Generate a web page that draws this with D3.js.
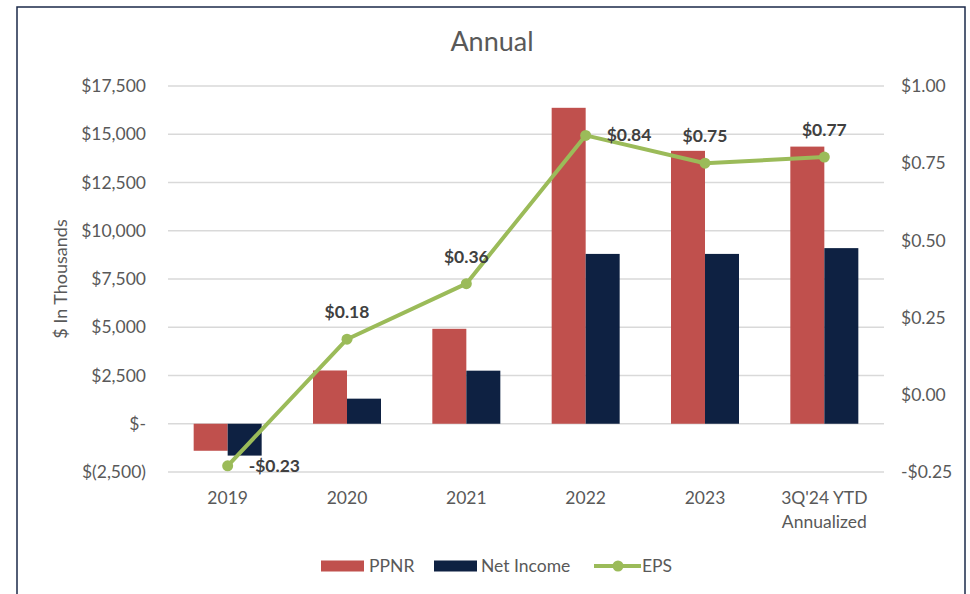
<!DOCTYPE html>
<html>
<head>
<meta charset="utf-8">
<script src="https://cdn.jsdelivr.net/npm/d3@7"></script>
<style>
  body { margin: 0; background: #fff; }
  text { font-family: Lato, "Open Sans", sans-serif; }
</style>
</head>
<body>
<div id="chart"></div>
<script>
const categories = ["2019", "2020", "2021", "2022", "2023", "3Q'24 YTD\nAnnualized"];
const ppnr = [-1400, 2760, 4920, 16370, 14140, 14360];
const netIncome = [-1650, 1300, 2750, 8800, 8800, 9100];
const eps = [-0.23, 0.18, 0.36, 0.84, 0.75, 0.77];
const leftTicks = [-2500, 0, 2500, 5000, 7500, 10000, 12500, 15000, 17500];
const rightTicks = [-0.25, 0, 0.25, 0.5, 0.75, 1.0];

const W = 970, H = 594;
const plot = { left: 168, right: 884, top: 86, bottom: 472 };

const svg = d3.select("#chart").append("svg")
  .attr("width", W).attr("height", H);

// Outer border
svg.append("rect")
  .attr("x", 17).attr("y", 7)
  .attr("width", 948).attr("height", 600)
  .attr("fill", "#fff")
  .attr("stroke", "#1B2A4A")
  .attr("stroke-width", 1.5);

// Scales
const x = d3.scaleBand().domain(categories).range([plot.left, plot.right]);
const y = d3.scaleLinear().domain([-2500, 17500]).range([plot.bottom, plot.top]);
const y2 = d3.scaleLinear().domain([-0.25, 1.0]).range([plot.bottom, plot.top]);
const barW = 34;

// Gridlines
svg.append("g")
  .selectAll("line")
  .data(leftTicks)
  .join("line")
  .attr("x1", plot.left).attr("x2", plot.right)
  .attr("y1", (d) => y(d)).attr("y2", (d) => y(d))
  .attr("stroke", "#D9D9D9")
  .attr("stroke-width", 1.3);

// Title
svg.append("text")
  .attr("x", 492).attr("y", 51)
  .attr("text-anchor", "middle")
  .attr("font-size", "27px")
  .attr("fill", "#595959")
  .text("Annual");

// Left axis
const fmtLeft = (d) => {
  if (d === 0) return "$-";
  const s = d3.format(",")(Math.abs(d));
  return d < 0 ? `$(${s})` : `$${s}`;
};
const leftAxis = svg.append("g")
  .attr("transform", `translate(${plot.left - 22},0)`)
  .call(d3.axisLeft(y).tickValues(leftTicks).tickFormat(fmtLeft).tickSize(0));
leftAxis.select(".domain").remove();
leftAxis.selectAll("text")
  .attr("font-size", "17.5px")
  .attr("fill", "#595959")
  .attr("x", 0)
  .style("font-family", "Lato, 'Open Sans', sans-serif");

// Right axis
const fmtRight = (d) => (d < 0 ? "-$" + Math.abs(d).toFixed(2) : "$" + d.toFixed(2));
const rightAxis = svg.append("g")
  .attr("transform", `translate(${plot.right + 17},0)`)
  .call(d3.axisRight(y2).tickValues(rightTicks).tickFormat(fmtRight).tickSize(0));
rightAxis.select(".domain").remove();
rightAxis.selectAll("text")
  .attr("font-size", "17.5px")
  .attr("fill", "#595959")
  .attr("x", 0)
  .style("font-family", "Lato, 'Open Sans', sans-serif");

// Y axis title
svg.append("text")
  .attr("transform", "translate(67,279) rotate(-90)")
  .attr("text-anchor", "middle")
  .attr("font-size", "18px")
  .attr("fill", "#595959")
  .text("$ In Thousands");

// X labels
const xLabels = svg.append("g")
  .selectAll("text")
  .data(categories)
  .join("text")
  .attr("x", (d) => x(d) + x.bandwidth() / 2)
  .attr("y", 504)
  .attr("text-anchor", "middle")
  .attr("font-size", "17.5px")
  .attr("fill", "#595959");
xLabels.each(function (d) {
  const lines = d.split("\n");
  d3.select(this).selectAll("tspan")
    .data(lines)
    .join("tspan")
    .attr("x", x(d) + x.bandwidth() / 2)
    .attr("dy", (l, i) => (i === 0 ? 0 : 24))
    .text((l) => l);
});

// Bars
const cx = (i) => x(categories[i]) + x.bandwidth() / 2;
svg.append("g")
  .selectAll("rect")
  .data(ppnr)
  .join("rect")
  .attr("x", (d, i) => cx(i) - barW)
  .attr("y", (d) => y(Math.max(0, d)))
  .attr("width", barW)
  .attr("height", (d) => Math.abs(y(d) - y(0)))
  .attr("fill", "#C0504D");

svg.append("g")
  .selectAll("rect")
  .data(netIncome)
  .join("rect")
  .attr("x", (d, i) => cx(i))
  .attr("y", (d) => y(Math.max(0, d)))
  .attr("width", barW)
  .attr("height", (d) => Math.abs(y(d) - y(0)))
  .attr("fill", "#0E2142");

// EPS line
const line = d3.line()
  .x((d, i) => cx(i))
  .y((d) => y2(d));

svg.append("path")
  .datum(eps)
  .attr("fill", "none")
  .attr("stroke", "#9BBB59")
  .attr("stroke-width", 4)
  .attr("stroke-linejoin", "round")
  .attr("d", line);

svg.append("g")
  .selectAll("circle")
  .data(eps)
  .join("circle")
  .attr("cx", (d, i) => cx(i))
  .attr("cy", (d) => y2(d))
  .attr("r", 5.5)
  .attr("fill", "#9BBB59");

// EPS labels: positions relative to point (right or above)
const labelPos = ["right", "above", "above", "right", "above", "above"];
svg.append("g")
  .selectAll("text")
  .data(eps)
  .join("text")
  .attr("x", (d, i) => (labelPos[i] === "right" ? cx(i) + 21 : cx(i)))
  .attr("y", (d, i) => (labelPos[i] === "right" ? y2(d) + 6 : y2(d) - 21))
  .attr("text-anchor", (d, i) => (labelPos[i] === "right" ? "start" : "middle"))
  .attr("font-size", "17.5px")
  .attr("font-weight", "bold")
  .attr("fill", "#404040")
  .text((d) => (d < 0 ? "-$" + Math.abs(d).toFixed(2) : "$" + d.toFixed(2)));

// Legend
const legend = svg.append("g").attr("transform", "translate(0,566)");
legend.append("rect").attr("x", 321).attr("y", -5.5).attr("width", 43).attr("height", 11).attr("fill", "#C0504D");
legend.append("text").attr("x", 369).attr("y", 6).attr("font-size", "17.5px").attr("fill", "#595959").text("PPNR");
legend.append("rect").attr("x", 434).attr("y", -5.5).attr("width", 43).attr("height", 11).attr("fill", "#0E2142");
legend.append("text").attr("x", 481).attr("y", 6).attr("font-size", "17.5px").attr("fill", "#595959").text("Net Income");
legend.append("line").attr("x1", 594).attr("x2", 641).attr("y1", 0).attr("y2", 0)
  .attr("stroke", "#9BBB59").attr("stroke-width", 4);
legend.append("circle").attr("cx", 618).attr("cy", 0).attr("r", 5.5).attr("fill", "#9BBB59");
legend.append("text").attr("x", 642).attr("y", 6).attr("font-size", "17.5px").attr("fill", "#595959").text("EPS");
</script>
</body>
</html>
